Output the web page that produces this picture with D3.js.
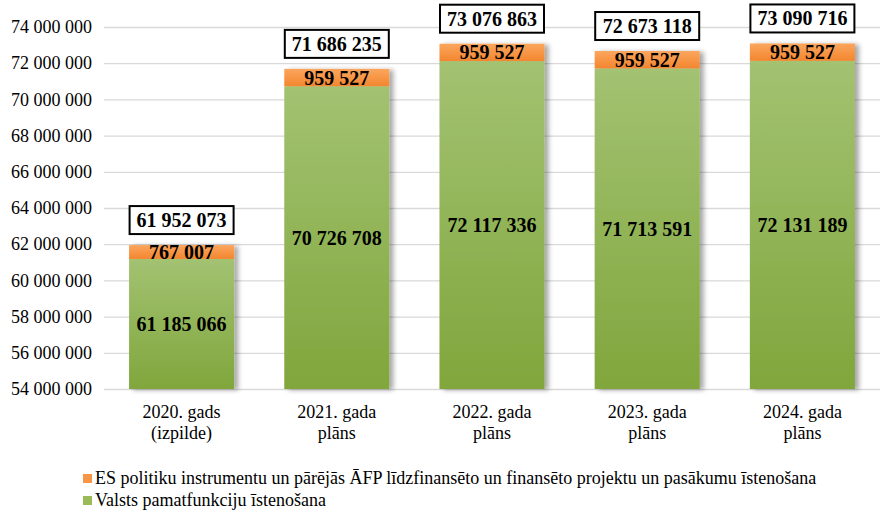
<!DOCTYPE html>
<html><head><meta charset="utf-8">
<script src="https://cdn.jsdelivr.net/npm/d3@7"></script>
<style>body{margin:0;background:#fff}svg{display:block}</style>
</head><body><svg id="c" width="895" height="528"></svg>
<script>
const categories = [["2020. gads","(izpilde)"],["2021. gada","plāns"],["2022. gada","plāns"],["2023. gada","plāns"],["2024. gada","plāns"]];
const baseValues = [61185066, 70726708, 72117336, 71713591, 72131189];
const esValues = [767007, 959527, 959527, 959527, 959527];
const totals = [61952073, 71686235, 73076863, 72673118, 73090716];
const yTicks = [54000000,56000000,58000000,60000000,62000000,64000000,66000000,68000000,70000000,72000000,74000000];
const legendLabels = ["ES politiku instrumentu un pārējās ĀFP līdzfinansēto un finansēto projektu un pasākumu īstenošana","Valsts pamatfunkciju īstenošana"];

const FONT = '"Liberation Serif"';
const fmt = v => d3.format(",")(v).replace(/,/g, " ");
const svg = d3.select("#c");
const defs = svg.append("defs");
const gG = defs.append("linearGradient").attr("id","gg").attr("x1",0).attr("y1",0).attr("x2",0).attr("y2",1);
gG.append("stop").attr("offset","0%").attr("stop-color","#a3c272");
gG.append("stop").attr("offset","100%").attr("stop-color","#80a63c");
const oG = defs.append("linearGradient").attr("id","og").attr("x1",0).attr("y1",0).attr("x2",0).attr("y2",1);
oG.append("stop").attr("offset","0%").attr("stop-color","#fba65e");
oG.append("stop").attr("offset","100%").attr("stop-color","#f3862f");
const sh = defs.append("filter").attr("id","sh").attr("x","-10%").attr("y","-10%").attr("width","130%").attr("height","120%");
sh.append("feGaussianBlur").attr("in","SourceAlpha").attr("stdDeviation",2.5).attr("result","b");
sh.append("feOffset").attr("dx",4).attr("dy",1).attr("result","o");
sh.append("feComponentTransfer").append("feFuncA").attr("type","linear").attr("slope",0.35);
const m = sh.append("feMerge"); m.append("feMergeNode"); m.append("feMergeNode").attr("in","SourceGraphic");

const x = d3.scaleBand().domain(d3.range(5)).range([104, 880]).paddingInner(0.323).paddingOuter(0.1615);
const y = d3.scaleLinear().domain([54000000, 74000000]).range([389, 27]);

const yAxis = svg.append("g").attr("transform","translate(104,0)")
  .call(d3.axisLeft(y).tickValues(yTicks).tickFormat(fmt).tickSize(-776).tickPadding(12));
yAxis.select(".domain").remove();
yAxis.selectAll("line").attr("stroke","#d9d9d9").attr("stroke-width",1.3);
yAxis.selectAll("text").style("font-family",FONT).style("font-size","18px").attr("fill","#000");

const bars = svg.append("g");
d3.range(5).forEach(i => {
  const g = bars.append("g").attr("filter","url(#sh)");
  g.append("rect").attr("x",x(i)).attr("width",x.bandwidth())
    .attr("y",y(baseValues[i])).attr("height",y(54000000)-y(baseValues[i])).attr("fill","url(#gg)");
  g.append("rect").attr("x",x(i)).attr("width",x.bandwidth())
    .attr("y",y(totals[i])).attr("height",y(baseValues[i])-y(totals[i])).attr("fill","url(#og)");
});
const labels = svg.append("g");
const bt = s => s.style("font-family",FONT).style("font-weight","bold").style("font-size","20px").attr("text-anchor","middle");
d3.range(5).forEach(i => {
  const cx = x(i)+x.bandwidth()/2;
  labels.append("text").call(bt).attr("x",cx).attr("y",(y(54000000)+y(baseValues[i]))/2+7).text(fmt(baseValues[i]));
  labels.append("text").call(bt).attr("x",cx).attr("y",(y(baseValues[i])+y(totals[i]))/2+7).text(fmt(esValues[i]));
  const by = y(totals[i]) - 11;
  labels.append("rect").attr("x",cx-52).attr("y",by-28).attr("width",104).attr("height",28)
    .attr("fill","#fff").attr("stroke","#000").attr("stroke-width",2);
  labels.append("text").call(bt).attr("x",cx).attr("y",by-7).text(fmt(totals[i]));
});

const xl = svg.append("g");
categories.forEach((c,i) => {
  const t = xl.append("text").style("font-family",FONT).style("font-size","18px").attr("text-anchor","middle")
    .attr("x",x(i)+x.bandwidth()/2).attr("y",418);
  c.forEach((l,j) => t.append("tspan").attr("x",x(i)+x.bandwidth()/2).attr("dy",j?21:0).text(l));
});

const lg = svg.append("g");
const lc = ["#f79646","#9bbb59"];
legendLabels.forEach((l,i) => {
  lg.append("rect").attr("x",83).attr("y",474+i*22).attr("width",9).attr("height",9).attr("fill",lc[i]);
  lg.append("text").style("font-family",FONT).style("font-size","18px").attr("x",95).attr("y",484+i*22).text(l);
});
</script></body></html>
